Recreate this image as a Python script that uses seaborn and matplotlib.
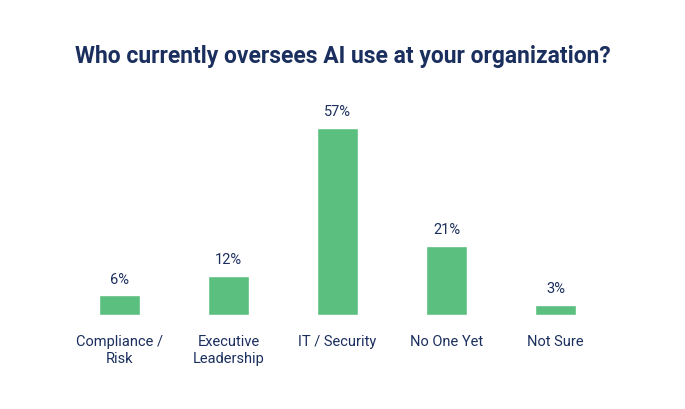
import matplotlib
matplotlib.use("Agg")
import matplotlib.pyplot as plt
import seaborn as sns

categories = ["Compliance /\nRisk", "Executive\nLeadership", "IT / Security", "No One Yet", "Not Sure"]
values = [6, 12, 57, 21, 3]

NAVY = "#1b2f5e"
GREEN = "#5abf7f"

sns.set_theme(style="white")
plt.rcParams["font.family"] = ["Roboto", "DejaVu Sans"]

fig = plt.figure(figsize=(6.85, 4.1), dpi=100)
ax = fig.add_axes([65 / 685, 1 - 316 / 410, 545 / 685, 197 / 410])

sns.barplot(x=categories, y=values, color=GREEN, saturation=1, width=0.37, ax=ax)
ax.set_ylim(0, 60)
for i, v in enumerate(values):
    ax.annotate(f"{v}%", (i, v), xytext=(0, 7), textcoords="offset points",
                ha="center", va="bottom", fontsize=10.5, color=NAVY)

ax.set_yticks([])
ax.tick_params(axis="x", length=0, pad=14, labelsize=10.5, labelcolor=NAVY)
for s in ax.spines.values():
    s.set_visible(False)
ax.set_xlabel("")
ax.set_ylabel("")

fig.text(0.5, 1 - 57 / 410, "Who currently oversees AI use at your organization?",
         ha="center", va="center", fontsize=16.5, fontweight="bold", color=NAVY)

plt.savefig("out.png", dpi=100)
plt.close()
